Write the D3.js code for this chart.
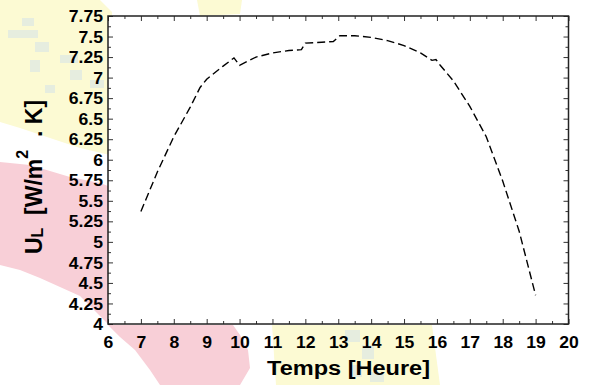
<!DOCTYPE html>
<html>
  <head>
    <meta charset="utf-8">
    <script src="https://cdn.jsdelivr.net/npm/d3@7/dist/d3.min.js"></script>
    <style>
      body { margin: 0; background: #fff; }
      text { font-family: "Liberation Sans", Arial, sans-serif; font-weight: bold; }
    </style>
  </head>
  <body>
    <script type="text/javascript">
      "use strict";
      // hours of the day and the loss coefficient
      var hours = [7, 7.5, 8, 8.5, 8.8, 9, 9.5, 9.83, 10.0, 10.5, 11, 11.5, 11.88, 12.0, 12.5,
                   12.85, 13.05, 13.5, 14, 14.5, 15, 15.5, 15.85, 15.97, 16.1, 16.5, 17, 17.5,
                   18, 18.5, 19];
      var ulValues = [5.37, 5.85, 6.28, 6.64, 6.88, 6.98, 7.14, 7.24, 7.15, 7.25, 7.30, 7.33, 7.34,
                      7.42, 7.43, 7.44, 7.51, 7.51, 7.49, 7.45, 7.39, 7.30, 7.21, 7.22, 7.15,
                      6.96, 6.65, 6.28, 5.74, 5.13, 4.35];
      var xTicks = d3.range(6, 21, 1);
      var yTicks = d3.range(4, 7.76, 0.25);
      var yTickLabels = ["4", "4.25", "4.5", "4.75", "5", "5.25", "5.5", "5.75",
                         "6", "6.25", "6.5", "6.75", "7", "7.25", "7.5", "7.75"];

      function draw() {
        var width = 589, height = 385;
        var pLeft = 108, pTop = 16, pRight = 568.5, pBottom = 324;

        var svg = d3.select("body").append("svg")
            .attr("width", width)
            .attr("height", height);

        // faded picture behind the chart (pastel blobs)
        var blobs = [
          {c: "#fcfad3", p: [[0,0],[100,0],[112,12],[110,155],[80,148],[50,138],[20,128],[0,122]]},
          {c: "#fcfad3", p: [[197,0],[242,0],[240,14],[200,16]]},
          {c: "#fcfad3", p: [[272,325],[432,325],[440,385],[276,385]]},
          {c: "#f8cfd7", p: [[0,162],[30,165],[50,171],[70,177],[100,183],[108,186],[108,324],
                              [100,316],[80,296],[60,287],[40,278],[20,270],[0,265]]},
          {c: "#f8cfd7", p: [[108,325],[233,325],[240,335],[248,350],[250,368],[240,385],[160,385],
                              [150,370],[135,350],[120,337]]}
        ];
        svg.selectAll("polygon.blob")
            .data(blobs)
          .enter().append("polygon")
            .attr("class", "blob")
            .attr("fill", function (d) { return d.c; })
            .attr("points", function (d) { return d.p.join(" "); });

        var specks = [[22,18,12,8],[8,30,30,8],[35,42,14,10],[60,55,18,8],[70,70,12,10],
                      [30,60,10,12],[90,80,14,8],[45,85,10,8],[345,330,15,12],[362,345,12,14],
                      [352,365,10,12],[370,372,14,10]];
        svg.selectAll("rect.speck")
            .data(specks)
          .enter().append("rect")
            .attr("class", "speck")
            .attr("x", function (d) { return d[0]; })
            .attr("y", function (d) { return d[1]; })
            .attr("width", function (d) { return d[2]; })
            .attr("height", function (d) { return d[3]; })
            .attr("fill", "#e6eddf");

        var x = d3.scaleLinear().domain([6, 20]).range([pLeft, pRight]);
        var y = d3.scaleLinear().domain([4, 7.75]).range([pBottom, pTop]);

        // plot area
        svg.append("rect")
            .attr("x", pLeft).attr("y", pTop)
            .attr("width", pRight - pLeft).attr("height", pBottom - pTop)
            .attr("fill", "#fff");

        var xMinor = d3.range(6.5, 20, 1);
        var yMinor = d3.range(4.125, 7.75, 0.25);

        function ticksOn(axisFn, scale, major, minor, translate, labels) {
          var gMinor = svg.append("g").attr("transform", translate)
              .call(axisFn(scale).tickValues(minor).tickSize(-3).tickFormat(""));
          var gMajor = svg.append("g").attr("transform", translate)
              .call(axisFn(scale).tickValues(major).tickSize(-5).tickPadding(0)
                .tickFormat(labels || ""));
          [gMinor, gMajor].forEach(function (g) {
            g.select(".domain").remove();
            g.selectAll("line").attr("stroke", "#333").attr("stroke-width", 1);
          });
          return gMajor;
        }

        var gx = ticksOn(d3.axisBottom, x, xTicks, xMinor, "translate(0," + pBottom + ")",
                         function (d) { return d; });
        gx.selectAll("text")
            .attr("y", 13)
            .attr("fill", "#000")
            .style("font-size", "16px")
            .attr("transform", "scale(1.1,1)");

        var gy = ticksOn(d3.axisLeft, y, yTicks, yMinor, "translate(" + pLeft + ",0)",
                         function (d, i) { return yTickLabels[i]; });
        gy.selectAll("text")
            .attr("x", -5 / 1.1)
            .attr("dy", "0.35em")
            .attr("fill", "#000")
            .style("font-size", "16px")
            .attr("transform", "scale(1.1,1)");

        ticksOn(d3.axisTop, x, xTicks, xMinor, "translate(0," + pTop + ")");
        ticksOn(d3.axisRight, y, yTicks, yMinor, "translate(" + pRight + ",0)");

        // frame
        svg.append("rect")
            .attr("x", pLeft).attr("y", pTop)
            .attr("width", pRight - pLeft).attr("height", pBottom - pTop)
            .attr("fill", "none")
            .attr("stroke", "#222")
            .attr("stroke-width", 1.5);

        // curve
        var line = d3.line()
            .x(function (d) { return x(d[0]); })
            .y(function (d) { return y(d[1]); });
        svg.append("path")
            .datum(d3.zip(hours, ulValues))
            .attr("d", line)
            .attr("fill", "none")
            .attr("stroke", "#000")
            .attr("stroke-width", 1.4)
            .attr("stroke-dasharray", "8,4");

        // axis titles
        svg.append("text")
            .attr("x", 348.5)
            .attr("y", 375)
            .attr("text-anchor", "middle")
            .attr("textLength", 163)
            .attr("lengthAdjust", "spacingAndGlyphs")
            .style("font-size", "20px")
            .text("Temps [Heure]");

        var yt = svg.append("text")
            .attr("transform", "translate(42,177) rotate(-90)")
            .attr("text-anchor", "middle")
            .style("font-size", "23px");
        yt.append("tspan").text("U");
        yt.append("tspan").style("font-size", "16px").attr("dy", 1).text("L");
        yt.append("tspan").attr("dy", -1).text("\u00a0\u00a0[W/m");
        yt.append("tspan").style("font-size", "16px").attr("dy", -14).text("2");
        yt.append("tspan").attr("dy", 14).text("\u00a0\u00a0.\u00a0K]");
      }
      draw();
    </script>
  </body>
</html>
